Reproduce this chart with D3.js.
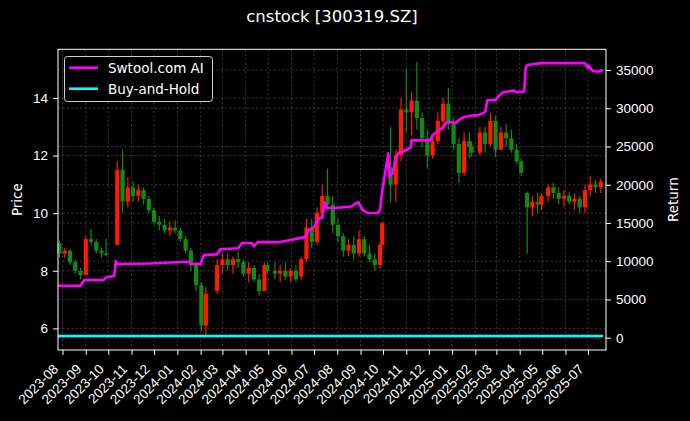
<!DOCTYPE html>
<html><head><meta charset="utf-8">
<script src="https://cdn.jsdelivr.net/npm/d3@7"></script>
<style>html,body{margin:0;padding:0;background:#000;} svg{display:block;font-family:"DejaVu Sans",sans-serif;}</style>
</head><body><svg id="c" width="690" height="421"></svg>
<script>
const title = "cnstock [300319.SZ]";
const candleDates = ["2023-07-28","2023-08-04","2023-08-11","2023-08-18","2023-08-25","2023-09-01","2023-09-08","2023-09-15","2023-09-22","2023-09-28",
"2023-10-13","2023-10-20","2023-10-27","2023-11-03","2023-11-10","2023-11-17","2023-11-24","2023-12-01","2023-12-08","2023-12-15",
"2023-12-22","2023-12-29","2024-01-05","2024-01-12","2024-01-19","2024-01-26","2024-02-02","2024-02-08","2024-02-23","2024-03-01",
"2024-03-08","2024-03-15","2024-03-22","2024-03-29","2024-04-05","2024-04-12","2024-04-19","2024-04-26","2024-04-30","2024-05-10",
"2024-05-17","2024-05-24","2024-05-31","2024-06-07","2024-06-14","2024-06-21","2024-06-28","2024-07-05","2024-07-12","2024-07-19",
"2024-07-26","2024-08-02","2024-08-09","2024-08-16","2024-08-23","2024-08-30","2024-09-06","2024-09-13","2024-09-20","2024-09-27",
"2024-09-30","2024-10-11","2024-10-18","2024-10-25","2024-11-01","2024-11-08","2024-11-15","2024-11-22","2024-11-29","2024-12-06",
"2024-12-13","2024-12-20","2024-12-27","2025-01-03","2025-01-10","2025-01-17","2025-01-24","2025-01-27","2025-02-07","2025-02-14",
"2025-02-21","2025-02-28","2025-03-07","2025-03-14","2025-03-21","2025-03-28","2025-04-03","2025-04-11","2025-04-18","2025-04-25",
"2025-04-30","2025-05-09","2025-05-16","2025-05-23","2025-05-30","2025-06-06","2025-06-13","2025-06-20","2025-06-27","2025-07-04",
"2025-07-11","2025-07-18"];
const opens = [8.95,8.6,8.7,8.3,8.0,7.85,9.1,9.0,8.7,8.6,
8.9,11.5,10.4,10.9,10.6,10.8,10.5,10.1,9.7,9.6,
9.4,9.5,9.4,9.1,8.7,8.2,7.5,6.1,7.3,8.2,
8.4,8.2,8.4,8.3,7.9,8.1,7.7,7.3,8.2,8.0,
7.9,8.0,7.8,8.0,7.8,8.4,9.5,9.0,10.0,10.6,
10.3,9.6,9.2,8.7,8.9,8.6,9.1,8.6,8.4,8.2,
8.9,11.6,11.0,12.0,13.6,13.5,13.9,13.3,12.6,12.0,
12.5,13.2,13.8,13.1,12.4,11.4,12.5,12.3,12.1,12.8,
12.4,13.2,12.2,12.8,12.6,12.2,11.8,10.7,10.2,10.4,
10.3,10.6,10.9,10.7,10.5,10.6,10.4,10.5,10.2,10.8,
11.0,10.9];
const highs = [9.05,8.8,8.75,8.4,8.1,9.2,9.45,9.1,8.8,9.1,
11.8,12.2,11.25,11.1,11.0,10.9,10.6,10.2,9.9,9.8,
9.7,9.75,9.5,9.2,8.8,8.3,7.6,7.45,8.4,8.6,
8.6,8.5,8.65,8.4,8.3,8.2,7.9,8.3,8.3,8.3,
8.2,8.3,8.1,8.2,8.5,9.8,9.8,10.2,11.0,11.55,
10.6,9.8,9.3,9.1,9.2,9.4,9.2,8.9,8.6,9.0,
9.7,13.0,12.2,14.0,15.0,14.2,15.25,13.5,12.9,12.7,
13.5,14.0,14.35,13.3,12.6,12.8,12.8,12.5,13.0,13.0,
13.5,13.4,13.0,13.1,12.9,12.4,11.9,10.75,10.6,10.7,
10.7,11.0,11.05,10.9,10.8,10.75,10.7,10.6,11.0,11.3,
11.15,11.2];
const lows = [8.45,8.45,8.2,7.9,7.7,7.85,8.9,8.6,8.45,8.5,
8.9,10.0,10.2,10.4,10.4,10.3,10.0,9.6,9.4,9.3,
9.2,9.3,9.0,8.6,8.0,7.3,5.9,5.75,7.2,7.9,
8.0,7.9,8.1,7.8,7.6,7.6,7.15,7.3,7.9,7.7,
7.6,7.7,7.6,7.6,7.7,8.3,8.8,8.9,9.8,10.1,
9.3,9.0,8.5,8.5,8.4,8.5,8.5,8.3,8.0,8.1,
8.9,10.4,10.4,11.8,12.8,12.7,12.9,12.3,11.55,11.9,
12.4,12.9,12.9,12.2,11.05,11.3,11.9,11.95,12.0,12.1,
12.3,11.95,12.2,12.3,12.1,11.7,11.3,8.6,9.9,10.0,
10.1,10.4,10.5,10.3,10.2,10.3,10.1,10.0,10.0,10.6,
10.7,10.7];
const closes = [8.6,8.7,8.3,8.0,7.85,9.1,9.0,8.7,8.6,8.55,
11.5,10.4,10.9,10.6,10.8,10.5,10.1,9.7,9.6,9.4,
9.5,9.4,9.1,8.7,8.2,7.5,6.1,7.2,8.2,8.4,
8.2,8.4,8.3,7.9,8.1,7.7,7.3,8.2,8.0,7.9,
8.0,7.8,8.0,7.7,8.4,9.5,9.0,10.0,10.6,10.3,
9.6,9.2,8.7,8.9,8.6,9.1,8.6,8.4,8.2,8.9,
9.65,11.0,12.0,13.6,13.5,13.9,13.3,12.6,12.0,12.5,
13.2,13.8,13.1,12.4,11.4,12.5,12.3,12.1,12.8,12.4,
13.2,12.2,12.8,12.6,12.2,11.8,11.4,10.2,10.4,10.3,
10.6,10.9,10.7,10.5,10.6,10.4,10.5,10.2,10.8,11.0,
10.9,11.1];
const aiDates = ["2023-07-26","2023-08-25","2023-08-30","2023-09-25","2023-09-28","2023-10-09","2023-10-11","2023-10-13","2023-11-24","2023-12-15",
"2024-01-16","2024-01-19","2024-02-01","2024-02-05","2024-02-23","2024-02-27","2024-03-22","2024-03-27","2024-04-09","2024-04-12",
"2024-04-17","2024-05-10","2024-05-14","2024-06-19","2024-06-24","2024-07-01","2024-07-08","2024-07-12","2024-07-15","2024-07-18",
"2024-07-26","2024-08-19","2024-08-22","2024-08-29","2024-09-04","2024-09-11","2024-09-24","2024-09-27","2024-09-30","2024-10-08",
"2024-10-09","2024-10-11","2024-10-14","2024-10-18","2024-10-21","2024-10-31","2024-11-07","2024-11-08","2024-12-03","2024-12-06",
"2024-12-12","2024-12-20","2024-12-25","2025-01-07","2025-01-08","2025-01-15","2025-01-24","2025-02-05","2025-02-14","2025-02-17",
"2025-02-28","2025-03-03","2025-03-10","2025-03-24","2025-03-28","2025-04-07","2025-04-09","2025-04-11","2025-04-30","2025-06-27",
"2025-07-01","2025-07-02","2025-07-07","2025-07-14","2025-07-21"];
const aiValues = [6800,6800,7540,7560,7900,8070,10030,9630,9700,9800,
9940,9630,9630,10800,10900,11560,11700,12380,12380,11950,
12500,12500,12450,13150,14080,14470,15650,15650,17700,16950,
16950,17130,17300,17740,16680,16300,16300,16700,19300,24100,
21000,21300,21500,23600,24100,24500,24900,25800,25800,26500,
26900,27500,28200,28100,28300,28800,29000,29100,29500,31050,
31050,31500,32100,32300,32100,32200,35250,35650,35900,35900,
35250,35600,34900,34780,35000];
const bhDates = ["2023-07-26","2024-01-02","2024-07-01","2025-01-02","2025-07-21"];
const bhValues = [220,220,220,220,220];
const priceTicks = [6,8,10,12,14];
const returnTicks = [0,5000,10000,15000,20000,25000,30000,35000];
const monthTicks = ["2023-08","2023-09","2023-10","2023-11","2023-12","2024-01","2024-02","2024-03","2024-04","2024-05","2024-06","2024-07","2024-08","2024-09","2024-10","2024-11","2024-12","2025-01","2025-02","2025-03","2025-04","2025-05","2025-06","2025-07"];
const seriesNames = ["Swtool.com AI","Buy-and-Hold"];
const seriesColors = ["#ff00ff","#00ffff"];

const parse = d3.utcParse("%Y-%m-%d");
const parseM = d3.utcParse("%Y-%m");
const L = 58, R = 606, T = 49.3, B = 350;
const svg = d3.select("#c");
svg.append("rect").attr("width",690).attr("height",421).attr("fill","#000");

const x = d3.scaleUtc().domain([parse("2023-07-26"), parse("2025-07-25")]).range([L, R]);
const yP = d3.scaleLinear().domain([5.25, 15.69]).range([B, T]);
const yR = d3.scaleLinear().domain([-1608, 37707]).range([B, T]);
const months = monthTicks.map(parseM);

// grid
const grid = svg.append("g").attr("stroke","#5a5a5a").attr("stroke-width",0.6).attr("stroke-dasharray","2.2,2.2");
grid.selectAll(".gv").data(months).join("line").attr("x1",d=>x(d)).attr("x2",d=>x(d)).attr("y1",T).attr("y2",B);
grid.selectAll(".gp").data(priceTicks).join("line").attr("x1",L).attr("x2",R).attr("y1",d=>yP(d)).attr("y2",d=>yP(d));
grid.selectAll(".gr").data(returnTicks).join("line").attr("x1",L).attr("x2",R).attr("y1",d=>yR(d)).attr("y2",d=>yR(d));

// candles
const candles = candleDates.map((d,i)=>({date:parse(d),o:opens[i],h:highs[i],l:lows[i],c:closes[i]}));
const bw = 4.2;
const cg = svg.append("g");
const cs = cg.selectAll("g").data(candles).join("g");
cs.append("line").attr("x1",d=>x(d.date)).attr("x2",d=>x(d.date)).attr("y1",d=>yP(d.h)).attr("y2",d=>yP(d.l))
  .attr("stroke",d=>d.c>=d.o?"#ff1a00":"#138a13").attr("stroke-width",1.2);
cs.append("rect").attr("x",d=>x(d.date)-bw/2).attr("width",bw)
  .attr("y",d=>yP(Math.max(d.o,d.c))).attr("height",d=>Math.max(0.8,Math.abs(yP(d.o)-yP(d.c))))
  .attr("fill",d=>d.c>=d.o?"#ff1a00":"#138a13");

// lines
const line = d3.line().x(d=>x(d[0])).y(d=>yR(d[1]));
svg.append("path").datum(aiDates.map((d,i)=>[parse(d),aiValues[i]])).attr("d",line)
  .attr("fill","none").attr("stroke",seriesColors[0]).attr("stroke-width",2.6).attr("stroke-linejoin","round");
svg.append("path").datum(bhDates.map((d,i)=>[parse(d),bhValues[i]])).attr("d",line)
  .attr("fill","none").attr("stroke",seriesColors[1]).attr("stroke-width",2.6);

// spines
svg.append("rect").attr("x",L).attr("y",T).attr("width",R-L).attr("height",B-T).attr("fill","none").attr("stroke","#fff").attr("stroke-width",1);

const fs = "13.5px";
// axes
const ax = svg.append("g").attr("transform",`translate(0,${B})`)
  .call(d3.axisBottom(x).tickValues(months).tickFormat(d3.utcFormat("%Y-%m")).tickSize(4.9).tickPadding(4.9));
ax.select(".domain").remove();
ax.selectAll("line").attr("stroke","#fff");
ax.selectAll("text").attr("fill","#fff").style("font-size",fs).attr("text-anchor","end")
  .attr("x",0).attr("y",0).attr("dy",null).attr("transform","translate(-4,20) rotate(-45)");

const al = svg.append("g").attr("transform",`translate(${L},0)`)
  .call(d3.axisLeft(yP).tickValues(priceTicks).tickFormat(d3.format("d")).tickSize(4.9).tickPadding(5));
al.select(".domain").remove();
al.selectAll("line").attr("stroke","#fff");
al.selectAll("text").attr("fill","#fff").style("font-size",fs);

const ar = svg.append("g").attr("transform",`translate(${R},0)`)
  .call(d3.axisRight(yR).tickValues(returnTicks).tickFormat(d3.format("d")).tickSize(4.9).tickPadding(5));
ar.select(".domain").remove();
ar.selectAll("line").attr("stroke","#fff");
ar.selectAll("text").attr("fill","#fff").style("font-size",fs);

// labels
svg.append("text").attr("transform",`translate(21.5,${(T+B)/2}) rotate(-90)`).attr("text-anchor","middle")
  .attr("fill","#fff").style("font-size",fs).text("Price");
svg.append("text").attr("transform",`translate(677.5,${(T+B)/2}) rotate(-90)`).attr("text-anchor","middle")
  .attr("fill","#fff").style("font-size",fs).text("Return");
svg.append("text").attr("x",(L+R)/2).attr("y",22).attr("text-anchor","middle").attr("fill","#fff")
  .style("font-size","16.5px").text(title);

// legend
const lg = svg.append("g");
lg.append("rect").attr("x",64.5).attr("y",56.5).attr("width",148).attr("height",45).attr("rx",3)
  .attr("fill","#000").attr("fill-opacity",0.8).attr("stroke","#d0d0d0").attr("stroke-width",1);
seriesNames.forEach((n,i)=>{
  const yy = 67.7 + i*21;
  lg.append("line").attr("x1",69).attr("x2",98).attr("y1",yy).attr("y2",yy).attr("stroke",seriesColors[i]).attr("stroke-width",2.6);
  lg.append("text").attr("x",108).attr("y",yy+5).attr("fill","#fff").style("font-size",fs).text(n);
});
</script></body></html>
